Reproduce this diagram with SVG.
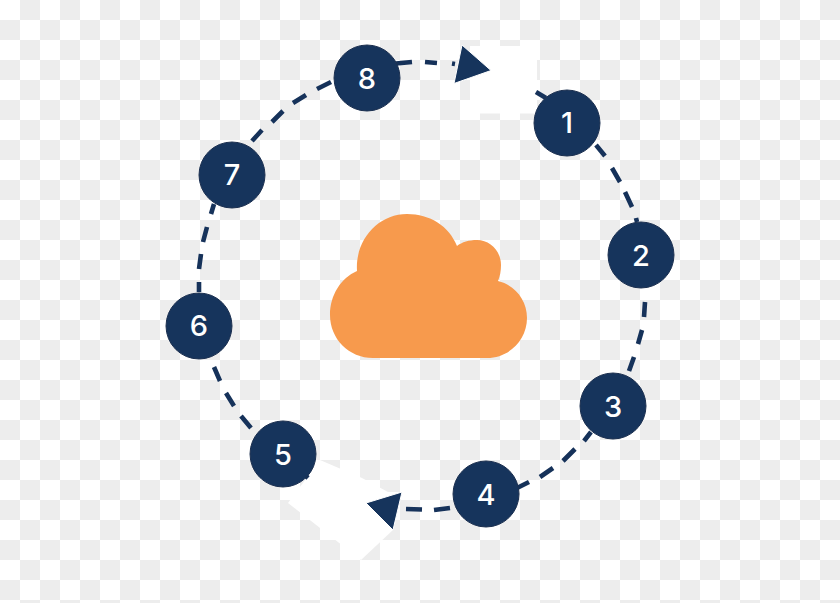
<svg xmlns="http://www.w3.org/2000/svg" width="840" height="603" viewBox="0 0 840 603">
<style>
.dash{fill:none;stroke:#16325a;stroke-width:4.600;stroke-linecap:butt}
.head{fill:#16345c;stroke:#fff;stroke-width:1;stroke-linejoin:miter}
.disc{fill:#16345c;stroke:#1c3050;stroke-width:1}
.num{font-family:Inter,"Liberation Sans",sans-serif;font-size:29px;font-weight:500;fill:#fff;text-anchor:middle}
.patch{fill:#fff}
</style>
<defs>
<pattern id="checker" width="40" height="40" patternUnits="userSpaceOnUse">
<rect width="40" height="40" fill="#fff"/>
<rect x="20" y="0" width="20" height="20" fill="#ededed"/>
<rect x="0" y="20" width="20" height="20" fill="#ededed"/>
</pattern>
</defs>
<rect width="840" height="603" fill="url(#checker)"/>
<rect class="patch" x="470" y="46" width="67" height="67.5"/>
<polygon class="patch" points="288,503 320,460 362,478 388,492 402,492 393,530 361,560"/>
<g id="connectors">
<path class="dash" d="M396,63.500L412,62M425,62L437,63M452,63.500L455,64"/>
<path class="dash" d="M536,92L546,98"/>
<path class="dash" d="M596,145L605,156M612,168L620,182M625,192L632,207M636,218L637,222"/>
<path class="dash" d="M645,302L644,317M642,330L638,344M634,357L629,371"/>
<path class="dash" d="M584,441L591,432M563,461L575,449M540,477L553,468M517,488L529,482"/>
<path class="dash" d="M450,508L434,510M422,509.500L406,509"/>
<path class="dash" d="M304,474L308,478"/>
<path class="dash" d="M241,416L251,428M226,393L234,406M214,367L220,381"/>
<path class="dash" d="M199,282L199,292M201,254L199,269M207,227L203,242M214,204L211,214"/>
<path class="dash" d="M252,141L262,130M272,122L283,111M293,103L306,95M317,89L331,82"/>
<polygon class="head" points="462,45 491,70.500 454,83.500"/>
<polygon class="head" points="402,492 366,503 393,530"/>
</g>
<g id="cloud"><path fill="#f79a4d" d="M357,271C355,240 378,214 407,214C430,214 449,226 457,246C462,242 469,240 477,240C490,240 501,251 501,265C501,271 500,276 498,281C515,285 527,300 527,318C527,340 509,358 487,358L373,358C349,358 330,339 330,315C330,295 341,278 357,271Z"/></g>
<g id="node-1"><circle class="disc" cx="567" cy="123" r="33"/><text class="num" x="567" y="133">1</text></g>
<g id="node-2"><circle class="disc" cx="641" cy="255" r="33"/><text class="num" x="641" y="266">2</text></g>
<g id="node-3"><circle class="disc" cx="613" cy="406" r="33"/><text class="num" x="613" y="417">3</text></g>
<g id="node-4"><circle class="disc" cx="486" cy="494" r="33"/><text class="num" x="486" y="505">4</text></g>
<g id="node-5"><circle class="disc" cx="283" cy="454" r="33"/><text class="num" x="283" y="465">5</text></g>
<g id="node-6"><circle class="disc" cx="199" cy="326" r="33"/><text class="num" x="199" y="336">6</text></g>
<g id="node-7"><circle class="disc" cx="232" cy="175" r="33"/><text class="num" x="232" y="185">7</text></g>
<g id="node-8"><circle class="disc" cx="367" cy="78" r="33"/><text class="num" x="367" y="89">8</text></g>
</svg>
